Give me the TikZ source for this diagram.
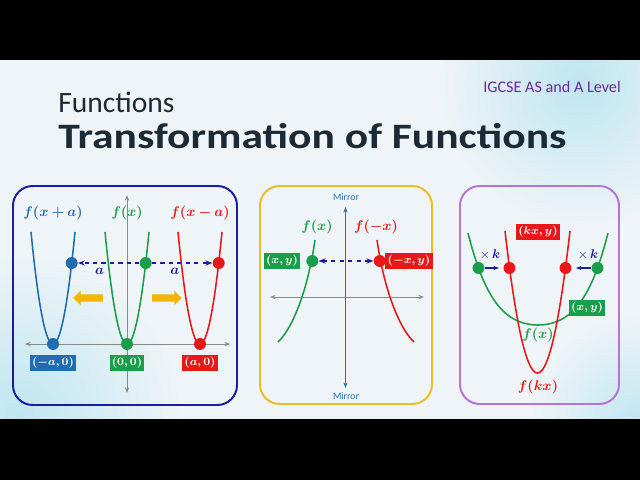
\documentclass[tikz,border=0pt]{standalone}
\usepackage{amsmath,amssymb,bm}
\usepackage{graphicx}
\usepackage{fontspec}
\setmainfont{Carlito}
\usepackage{xcolor}
\usepackage{tikz}
\usetikzlibrary{arrows.meta,positioning,shapes.arrows,calc}

\definecolor{bgc}{HTML}{EEF4F7}
\definecolor{tint}{HTML}{BFE6F1}
\definecolor{titlec}{HTML}{1B2A35}
\definecolor{levelc}{HTML}{6A2A9A}
\definecolor{navy}{HTML}{1C1CA0}
\definecolor{goldc}{HTML}{E8BE2A}
\definecolor{lilac}{HTML}{B575D5}
\definecolor{gblue}{HTML}{1F6CB0}
\definecolor{ggreen}{HTML}{1A9E4A}
\definecolor{gred}{HTML}{E81818}
\definecolor{arrowyel}{HTML}{F5B400}
\definecolor{axisgray}{HTML}{8A8A8A}
\definecolor{mblue}{HTML}{2A6EB0}

\begin{document}
\begin{tikzpicture}[x=0.025cm, y=-0.025cm,
  panel/.style={rounded corners=14pt, line width=1.4pt},
  axis/.style={{Stealth[length=4pt]}-{Stealth[length=4pt]}, line width=0.7pt, draw=axisgray},
  curve/.style={line width=1.1pt},
  dot/.style={circle, fill=#1, inner sep=0pt, minimum size=8.5pt},
  tag/.style={fill=#1, text=white, font=\footnotesize, inner sep=1.6pt, minimum height=11.5pt},
  lbl/.style={text=#1, font=\normalsize},
  dasharr/.style={-{Stealth[length=5pt]}, dashed, line width=1pt, draw=navy},
  karr/.style={-{Stealth[length=4pt]}, line width=1pt, draw=navy},
  movearr/.style={single arrow, fill=arrowyel, inner sep=2.4pt, minimum height=21pt,
    single arrow head extend=2.6pt, single arrow head indent=0pt}
]
\useasboundingbox (0,0) rectangle (640,480);
\fill[bgc] (0,60) rectangle (640,419);
\begin{scope}
  \clip (0,60) rectangle (640,419);
  \shade[inner color=tint, outer color=bgc] (580,85) circle (140);
  \shade[inner color=tint, outer color=bgc] (20,415) circle (160);
  \shade[inner color=tint, outer color=bgc] (640,425) circle (110);
\end{scope}
\fill[black] (0,0) rectangle (640,60);
\fill[black] (0,419) rectangle (640,480);

% heading
\node[anchor=base west, font=\fontsize{21}{24}\selectfont, text=titlec, inner sep=0pt] (sub) at (58,112) {Functions};
\node[anchor=base west, font=\fontsize{25.4}{30}\selectfont\bfseries, text=titlec, inner sep=0pt] (title) at (58,148) {\scalebox{1.22}[1]{Transformation of Functions}};
\node[anchor=base east, font=\fontsize{11.5}{13}\selectfont, text=levelc, inner sep=0pt] (level) at (621,92) {IGCSE AS and A Level};

% translation
\draw[panel, navy] (13,186) rectangle (237,405);
\coordinate (t1) at (127,195); \coordinate (b1) at (127,393);
\coordinate (l1) at (25,344); \coordinate (r1) at (230,344);
\draw[axis] (t1) -- (b1);
\draw[axis] (l1) -- (r1);
\draw[curve, gblue] plot[domain=-22:22, samples=41] ({53+\x}, {344-112*(\x/22)^2});
\draw[curve, ggreen] plot[domain=-22:22, samples=41] ({127+\x}, {344-112*(\x/22)^2});
\draw[curve, gred] plot[domain=-22:22, samples=41] ({200+\x}, {344-112*(\x/22)^2});
\node[lbl=gblue] (fa) at (53,213) {$\bm{f(x+a)}$};
\node[lbl=ggreen] (f0) at (127,213) {$\bm{f(x)}$};
\node[lbl=gred] (fb) at (200,213) {$\bm{f(x-a)}$};
\node[dot=gblue] (bd) at (71.7,263) {};
\node[dot=ggreen] (gd) at (145.7,263) {};
\node[dot=gred] (rd) at (218.7,263) {};
\draw[dasharr] (gd) -- node[below, pos=0.65, text=navy] (la) {$\bm{a}$} (bd);
\draw[dasharr] (gd) -- node[below, pos=0.38, text=navy] (lb) {$\bm{a}$} (rd);
\node[movearr, shape border rotate=180] (ya) at (90,298) {};
\node[movearr] (yb) at (165,298) {};
\node[dot=gblue] (bv) at (53,344) {};
\node[dot=ggreen] (gv) at (127,344) {};
\node[dot=gred] (rv) at (200,344) {};
\node[tag=gblue] (tba) at (53,363) {$\bm{(-a,0)}$};
\node[tag=ggreen] (tg) at (127,363) {$\bm{(0,0)}$};
\node[tag=gred] (tra) at (200,363) {$\bm{(a,0)}$};

% reflection
\draw[panel, goldc] (260,186) rectangle (432,404);
\coordinate (t2) at (345.5,207); \coordinate (b2) at (345.5,388);
\coordinate (l2) at (270,297); \coordinate (r2) at (424,297);
\draw[axis] (l2) -- (r2);
\draw[axis, draw=mblue] (t2) -- (b2);
\node[font=\fontsize{7}{8}\selectfont, text=mblue] (mirt) at (346,197) {Mirror};
\node[font=\fontsize{7}{8}\selectfont, text=mblue] (mirb) at (346,396) {Mirror};
\draw[curve, ggreen] (315,240) .. controls (307,295) and (291,330) .. (278,342);
\draw[curve, gred] (377,240) .. controls (385,295) and (401,330) .. (414,342);
\node[lbl=ggreen] (fx) at (317,227) {$\bm{f(x)}$};
\node[lbl=gred] (fmx) at (376,227) {$\bm{f(-x)}$};
\node[dot=ggreen] (pd) at (312.3,261) {};
\node[dot=gred] (qd) at (379.7,261) {};
\draw[dasharr, {Stealth[length=5pt]}-{Stealth[length=5pt]}] (pd) -- (qd);
\node[tag=ggreen] (txy) at (282,261) {$\bm{(x,y)}$};
\node[tag=gred] (tmxy) at (409,261) {$\bm{(-x,y)}$};

% stretch
\draw[panel, lilac] (460,186) rectangle (619,404);
\draw[curve, ggreen] plot[domain=-70:70, samples=61] ({538+\x}, {325-44.8*(\x/70)^2-47.2*(\x/70)^4});
\draw[curve, gred] plot[domain=-32.5:32.5, samples=61] ({537.5+\x}, {373-142*(\x/32.5)^2});
\node[dot=ggreen] (gl) at (478.5,268) {};
\node[dot=ggreen] (gr) at (597.5,268) {};
\node[dot=gred] (rl) at (509.5,268) {};
\node[dot=gred] (rr) at (565.5,268) {};
\draw[karr, shorten >=3pt] (gl) -- (rl);
\draw[karr, shorten >=3pt] (gr) -- (rr);
\node[text=navy, font=\small] (kl) at (490,255) {$\times\,\bm{k}$};
\node[text=navy, font=\small] (kr) at (588,255) {$\times\,\bm{k}$};
\node[tag=gred] (tkx) at (538,232) {$\bm{(kx,y)}$};
\node[tag=ggreen] (txy2) at (587,308) {$\bm{(x,y)}$};
\node[lbl=ggreen] (fx3) at (538,335) {$\bm{f(x)}$};
\node[lbl=gred] (fkx) at (538,387) {$\bm{f(kx)}$};
\end{tikzpicture}
\end{document}
